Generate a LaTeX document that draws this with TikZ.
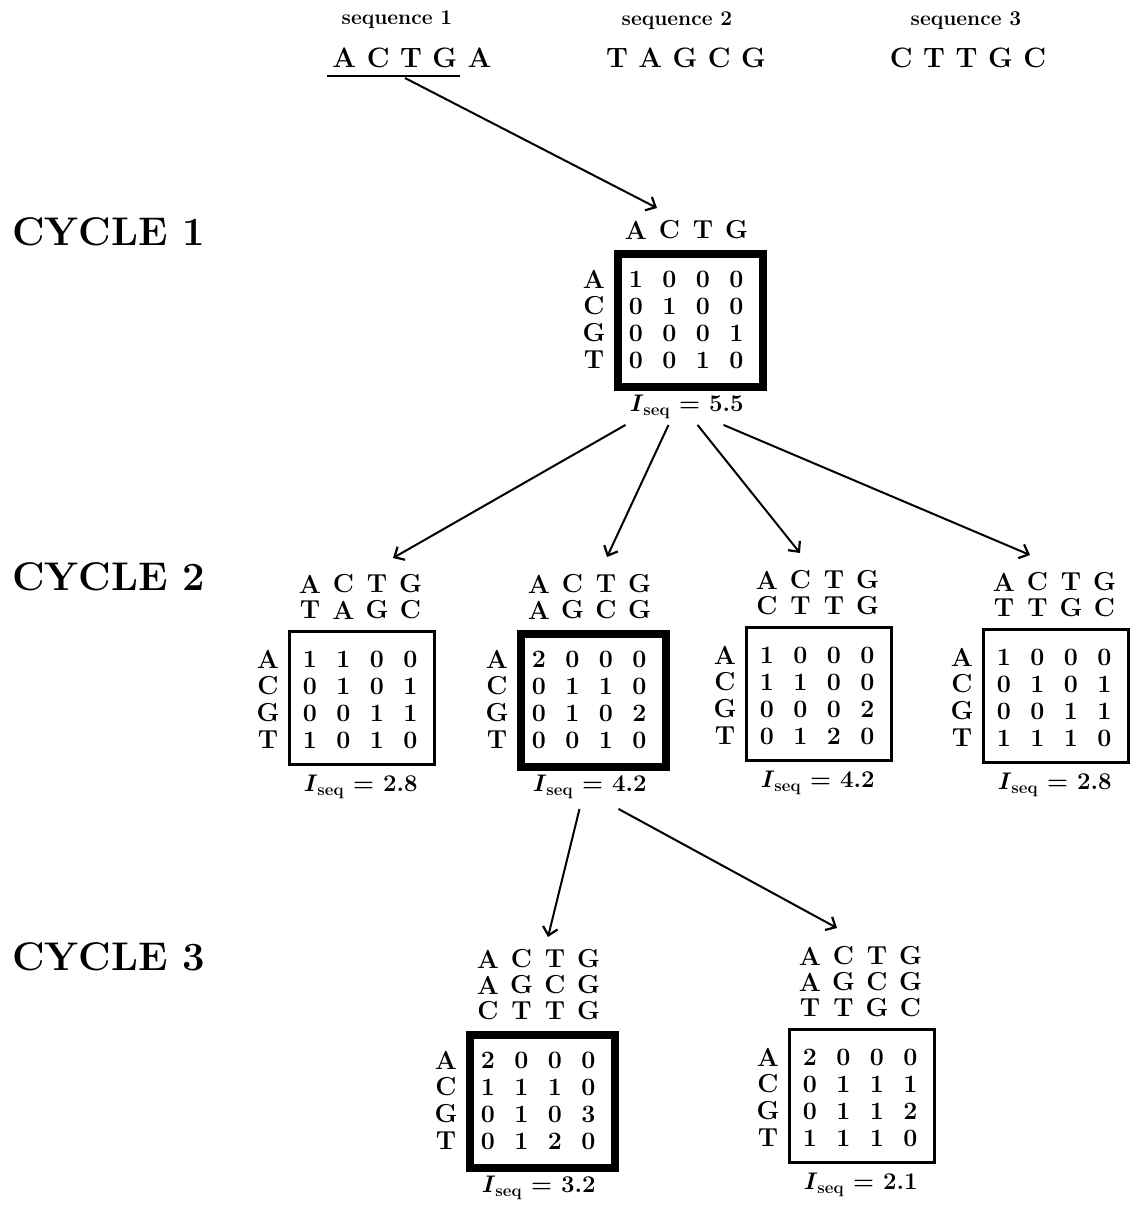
\documentclass[tikz,border=0pt]{standalone}
\usepackage{fontspec}
\usetikzlibrary{arrows.meta}
\tikzset{
  x=1pt, y=-1pt,
  lbl/.style={inner sep=0pt, font=\fontsize{26}{28}\selectfont\bfseries},
  dig/.style={inner sep=0pt, font=\fontsize{25}{27}\selectfont\bfseries},
  iseqlbl/.style={inner sep=0pt, font=\fontsize{24}{26}\selectfont\bfseries},
  cyc/.style={inner sep=0pt, anchor=west, font=\fontsize{40}{42}\selectfont\bfseries},
  seqname/.style={inner sep=0pt, font=\fontsize{21}{23}\selectfont\bfseries},
  seqtxt/.style={inner sep=0pt, font=\fontsize{28}{30}\selectfont\bfseries},
  thinbox/.style={draw, line width=2.5pt},
  thickbox/.style={draw, line width=8pt},
  arr/.style={line width=2pt, -{Straight Barb[length=8pt,width=15pt,line width=2.2pt]}},
}
\newcommand\mtx[8]{%
  \node[#4, anchor=north west, minimum width=145pt, minimum height=133pt, inner sep=0pt] (#1) at (#2,#3) {};
  \foreach \hrow [count=\k] in {#6} {
    \foreach \ch [count=\j] in \hrow {
      \node[lbl] (#1-h\k-\j) at ({#2+22+33.5*(\j-1)}, {#3-20-26*(#5-\k)}) {\ch};
    }
  }
  \foreach \rl [count=\i] in {A,C,G,T} {
    \node[lbl] (#1-r\i) at ({#2-20}, {#3+29+27*(\i-1)}) {\rl};
  }
  \foreach \drow [count=\i] in {#7} {
    \foreach \d [count=\j] in \drow {
      \node[dig] (#1-d\i-\j) at ({#2+22+33.5*(\j-1)}, {#3+29+27*(\i-1)}) {\d};
    }
  }
  \node[iseqlbl] (#1-iseq) at ({#2+72.5}, {#3+133+24}) {\textit{I}\textsubscript{seq} = #8};
}
\begin{document}
\begin{tikzpicture}
\useasboundingbox[fill=white] (0,0) rectangle (1143,1227);

% sequences
\node[seqname] (sn1) at (397,20) {sequence 1};
\node[seqname] (sn2) at (677,21) {sequence 2};
\node[seqname] (sn3) at (966,21) {sequence 3};
\node[seqtxt] (seq1) at (412,58) {A C T G A};
\node[seqtxt] (seq2) at (686,58) {T A G C G};
\node[seqtxt] (seq3) at (968,58) {C T T G C};
\coordinate (ula) at (327,76);
\coordinate (ulb) at (460,76);
\draw[line width=2.5pt] (ula) -- (ulb);
\coordinate (ulfoot) at (405,78);

% cycle labels
\node[cyc] (cyc1) at (12,232) {CYCLE 1};
\node[cyc] (cyc2) at (12,577) {CYCLE 2};
\node[cyc] (cyc3) at (12,957) {CYCLE 3};

% matrices
\mtx{m1}{614}{250}{thickbox}{1}{{A,C,T,G}}{{1,0,0,0},{0,1,0,0},{0,0,0,1},{0,0,1,0}}{5.5}
\mtx{m2a}{288}{630}{thinbox}{2}{{A,C,T,G},{T,A,G,C}}{{1,1,0,0},{0,1,0,1},{0,0,1,1},{1,0,1,0}}{2.8}
\mtx{m2b}{517}{630}{thickbox}{2}{{A,C,T,G},{A,G,C,G}}{{2,0,0,0},{0,1,1,0},{0,1,0,2},{0,0,1,0}}{4.2}
\mtx{m2c}{745}{626}{thinbox}{2}{{A,C,T,G},{C,T,T,G}}{{1,0,0,0},{1,1,0,0},{0,0,0,2},{0,1,2,0}}{4.2}
\mtx{m2d}{982}{628}{thinbox}{2}{{A,C,T,G},{T,T,G,C}}{{1,0,0,0},{0,1,0,1},{0,0,1,1},{1,1,1,0}}{2.8}
\mtx{m3a}{466}{1031}{thickbox}{3}{{A,C,T,G},{A,G,C,G},{C,T,T,G}}{{2,0,0,0},{1,1,1,0},{0,1,0,3},{0,1,2,0}}{3.2}
\mtx{m3b}{788}{1028}{thinbox}{3}{{A,C,T,G},{A,G,C,G},{T,T,G,C}}{{2,0,0,0},{0,1,1,1},{0,1,1,2},{1,1,1,0}}{2.1}

% arrow ends
\coordinate (m1in) at (657,208);
\coordinate (m2ain) at (393,558);
\coordinate (m2bin) at (607,557);
\coordinate (m2cin) at (800,553);
\coordinate (m2din) at (1030,555);
\coordinate (m3ain) at (548,937);
\coordinate (m3bin) at (837,928);

\draw[arr] (ulfoot) -- (m1in);
\draw[arr] ([xshift=-61pt,yshift=-6pt]m1-iseq.south) -- (m2ain);
\draw[arr] ([xshift=-18pt,yshift=-6pt]m1-iseq.south) -- (m2bin);
\draw[arr] ([xshift=11pt,yshift=-6pt]m1-iseq.south) -- (m2cin);
\draw[arr] ([xshift=37pt,yshift=-6pt]m1-iseq.south) -- (m2din);
\draw[arr] ([xshift=-10pt,yshift=-10pt]m2b-iseq.south) -- (m3ain);
\draw[arr] ([xshift=29pt,yshift=-10pt]m2b-iseq.south) -- (m3bin);
\end{tikzpicture}
\end{document}
